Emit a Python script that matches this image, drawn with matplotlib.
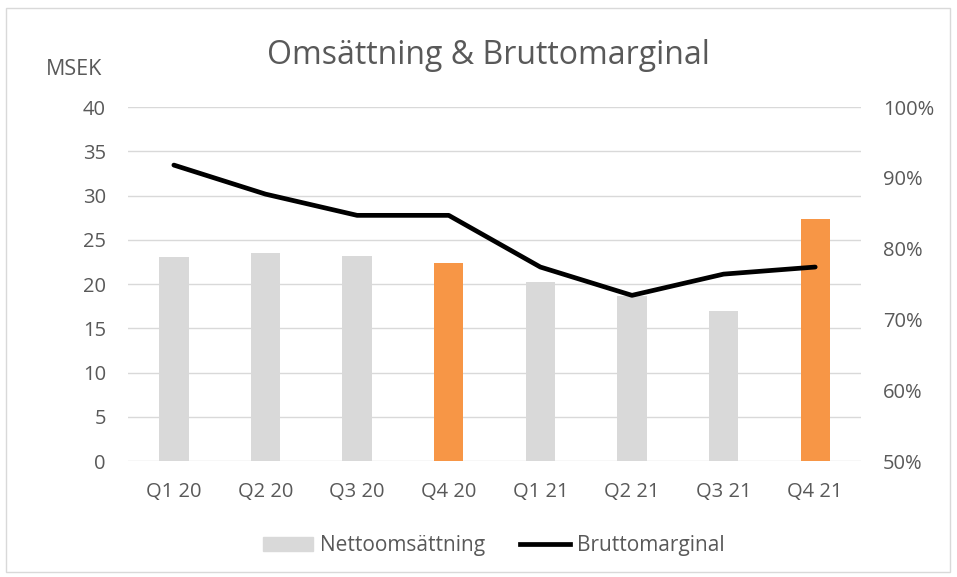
import matplotlib.pyplot as plt
from matplotlib.patches import Rectangle
from matplotlib.lines import Line2D
from matplotlib.ticker import PercentFormatter

plt.rcParams['font.family'] = ['Open Sans', 'DejaVu Sans']

quarters = ["Q1 20", "Q2 20", "Q3 20", "Q4 20", "Q1 21", "Q2 21", "Q3 21", "Q4 21"]
netto = [23.1, 23.5, 23.2, 22.4, 20.2, 18.7, 16.9, 27.4]
brutto = [91.8, 87.7, 84.7, 84.7, 77.4, 73.4, 76.4, 77.4]
highlight = [False, False, False, True, False, False, False, True]

gray = "#D9D9D9"
orange = "#F79646"
txt = "#595959"

fig = plt.figure(figsize=(9.57, 5.77), dpi=100)
fig.patches.append(Rectangle((0.006, 0.008), 0.987, 0.978, transform=fig.transFigure,
                             fill=False, edgecolor="#D9D9D9", linewidth=1))

ax = fig.add_axes([0.1338, 0.201, 0.7659, 0.6135])
x = list(range(len(quarters)))
colors = [orange if h else gray for h in highlight]
ax.bar(x, netto, width=0.32, color=colors, zorder=2)
ax.set_ylim(0, 40)
ax.set_yticks(range(0, 41, 5))
ax.set_xlim(-0.5, len(quarters) - 0.5)
ax.set_xticks(x)
ax.set_xticklabels(quarters)
ax.grid(axis="y", color=gray, linewidth=1, zorder=0)
ax.set_axisbelow(True)

ax2 = ax.twinx()
ax2.plot(x, brutto, color="black", linewidth=3.4, solid_capstyle="round", zorder=3)
ax2.set_ylim(50, 100)
ax2.set_yticks(range(50, 101, 10))
ax2.yaxis.set_major_formatter(PercentFormatter(decimals=0))

for a in (ax, ax2):
    for s in a.spines.values():
        s.set_visible(False)
    a.tick_params(length=0, labelsize=14.5, colors=txt)
ax.tick_params(axis="y", pad=16)
ax.tick_params(axis="x", pad=15)
ax2.tick_params(axis="y", pad=16)

fig.text(0.5105, 0.904, "Omsättning & Bruttomarginal", ha="center", va="center",
         fontsize=23, color=txt)
fig.text(0.0773, 0.879, "MSEK", ha="center", va="center", fontsize=15.5, color=txt)

handles = [Rectangle((0, 0), 1, 1, color=gray),
           Line2D([0], [0], color="black", linewidth=3.4)]
fig.legend(handles, ["Nettoomsättning", "Bruttomarginal"], loc="center",
           bbox_to_anchor=(0.516, 0.054), ncol=2, frameon=False, fontsize=15,
           labelcolor=txt, handlelength=2.4, handletextpad=0.3, columnspacing=1.7)

fig.savefig("out.png", dpi=100)
